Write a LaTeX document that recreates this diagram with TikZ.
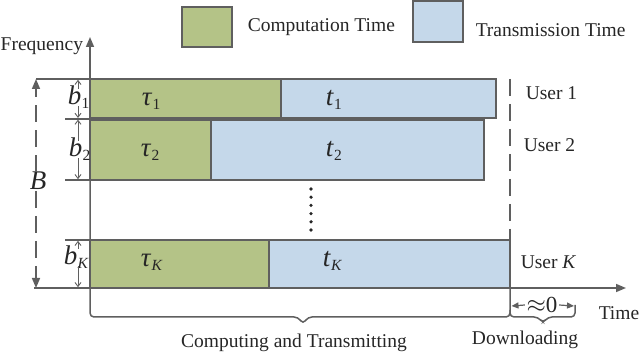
\documentclass[tikz,border=0pt]{standalone}
\usepackage{fontspec}
\setmainfont{Liberation Serif}
\usetikzlibrary{arrows.meta}
\definecolor{lgray}{RGB}{95,95,95}
\definecolor{cgreen}{RGB}{180,195,135}
\definecolor{tblue}{RGB}{197,216,234}
\newcommand\isub[2]{\textit{#1}\kern0.3pt\raisebox{-3.5pt}{\fontsize{15.5}{18}\selectfont #2}}
\begin{document}
\begin{tikzpicture}[x=1pt,y=-1pt,
  color=lgray,
  line width=1.5pt,
  bar/.style={draw=lgray, line width=1.5pt, inner sep=0pt, outer sep=0pt, anchor=north west},
  comp/.style={bar, fill=cgreen},
  trans/.style={bar, fill=tblue},
  lbl/.style={font=\fontsize{19.5}{23}\selectfont, inner sep=0pt, text=black!85},
  mlbl/.style={font=\fontsize{27}{31}\selectfont, inner sep=0pt, text=black!85, anchor=base west},
  dimarrow/.style={line width=0.9pt, shorten <=-3pt, -{Straight Barb[length=4pt,width=6pt]}},
  axarrow/.style={-{Triangle[length=10pt,width=8pt]}},
  longdash/.style={dash pattern=on 17pt off 8pt},
  dot/.style={circle, fill=black!85, draw=none, inner sep=0pt, minimum size=3.6pt}
]
\useasboundingbox (0,0) rectangle (640,355);

% legend
\node[comp, minimum width=50pt, minimum height=40pt] (lc) at (182,7) {};
\node[lbl, anchor=west] (lct) at (247,27) {Computation Time};
\node[trans, minimum width=50pt, minimum height=41pt] (lt) at (413,1) {};
\node[lbl, anchor=west] (ltt) at (475,30) {Transmission Time};

% bars
\node[comp, minimum width=191pt, minimum height=39pt] (g1) at (90,79) {};
\node[trans, minimum width=215pt, minimum height=39pt] (h1) at (281,79) {};
\node[comp, minimum width=121pt, minimum height=60pt] (g2) at (90,120) {};
\node[trans, minimum width=273pt, minimum height=60pt] (h2) at (211,120) {};
\node[comp, minimum width=179pt, minimum height=48pt] (gK) at (90,240) {};
\node[trans, minimum width=241pt, minimum height=48pt] (hK) at (269,240) {};

\node[mlbl] (tau1) at (141,106) {\isub{τ}{1}};
\node[mlbl] (t1) at (325,106) {\isub{t}{1}};
\node[mlbl] (tau2) at (140,157) {\isub{τ}{2}};
\node[mlbl] (t2) at (325,157) {\isub{t}{2}};
\node[mlbl] (tauK) at (140,267) {\isub{τ}{\textit{K}}};
\node[mlbl] (tK) at (322,267) {\isub{t}{\textit{K}}};

% dots
\foreach \yy [count=\i] in {189,197.2,205.4,213.6,221.8,230}
  \node[dot] (d\i) at (311,\yy) {};

% axes
\coordinate (fq) at (90,37);
\coordinate (tm) at (626,288);
\coordinate (tl) at (34,288);
\draw[axarrow] (tl) -- (tm);
\draw[rounded corners=4pt] (510,240) -- (510,317) -- (308,317) -- (303,324) -- (298,317) -- (90,317) -- (90,60);
\draw[axarrow] (90,80) -- (fq);
\draw[rounded corners=4pt] (510,310) -- (510,317) -- (538,317) -- (543,323) -- (548,317) -- (575,317) -- (575,305);
\draw[longdash, line width=1.6pt] (510,79) -- (510,240);

% top line and ticks
\coordinate (tt) at (36,79);
\draw (tt) -- (g1.north west);
\draw (65,118.8) -- (90,118.8);
\draw (65,180) -- (90,180);
\draw (65,240) -- (gK.north west);

% B
\node[mlbl] (B) at (29,190) {\textit{B}};
\draw[longdash, line width=1.6pt, -{Triangle[length=10pt,width=8pt]}] (B.north -| tt) -- (tt);
\draw[longdash, line width=1.6pt, -{Triangle[length=10pt,width=8pt]}] (B.south -| tt) -- (36,288);

% b labels
\node[mlbl] (b1) at (67,105) {\isub{b}{1}};
\draw[dimarrow] (b1.north -| 78,0) -- (78,79.8);
\draw[dimarrow] (b1.south -| 78,0) -- (78,118);
\node[mlbl] (b2) at (68,157) {\isub{b}{2}};
\draw[dimarrow] (b2.north -| 78,0) -- (78,119.6);
\draw[dimarrow] (b2.south -| 78,0) -- (78,179.2);
\node[mlbl] (bK) at (63,265) {\isub{b}{\textit{K}}};
\draw[dimarrow] (bK.north -| 78,0) -- (78,240.8);
\draw[dimarrow] (bK.south -| 78,0) -- (78,287.2);

% user labels
\node[lbl, anchor=west] (u1) at (525,93) {User 1};
\node[lbl, anchor=west] (u2) at (523,145) {User 2};
\node[lbl, anchor=west] (uK) at (520,262) {User \textit{K}};

% approx 0
\node[font=\fontsize{23}{27}\selectfont, text=black!85, fill=white, inner sep=0pt, inner xsep=1pt] (az) at (542,305) {$\approx$0};
\draw[line width=1.2pt, -{Triangle[length=7pt,width=6pt]}] (az.west) -- (511.5,306);
\draw[line width=1.2pt, -{Triangle[length=7pt,width=6pt]}] (az.east) -- (574,306);

% bottom labels
\node[lbl, anchor=west] (time) at (598,313) {Time};
\node[lbl] (dl) at (525,340) {Downloading};
\node[lbl] (ct) at (294,343) {Computing and Transmitting};
\node[lbl, anchor=west] (fr) at (0,46) {Frequency};
\end{tikzpicture}
\end{document}
